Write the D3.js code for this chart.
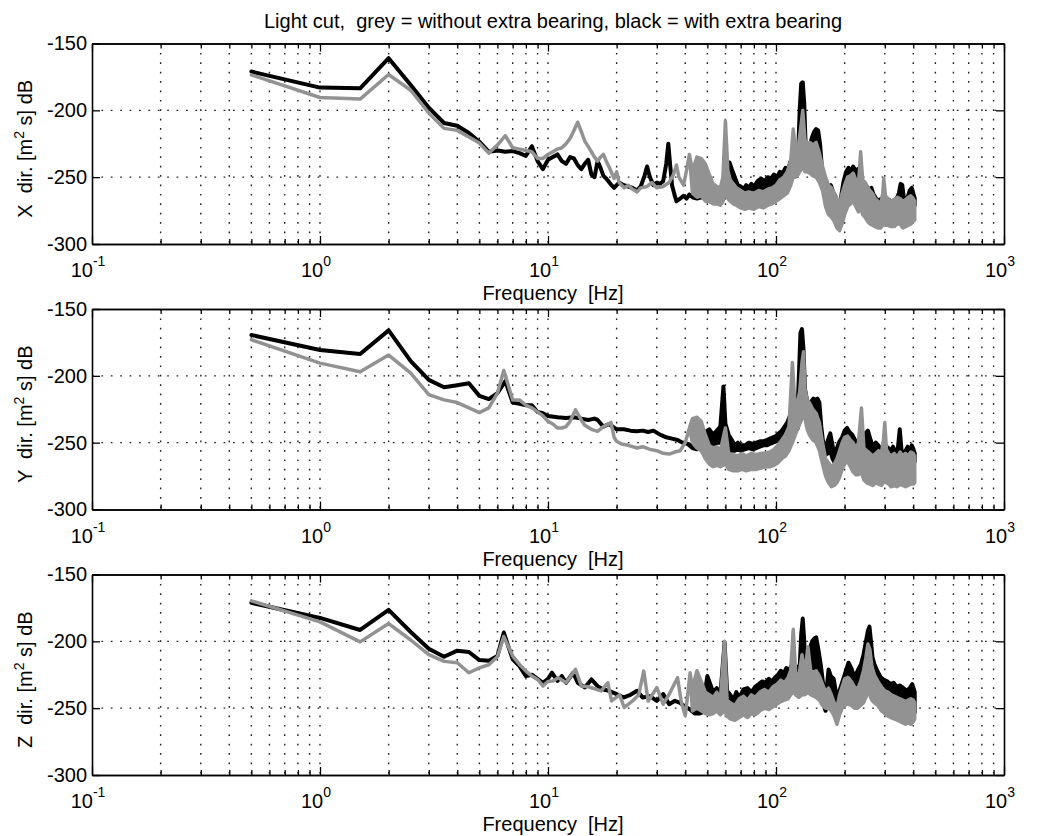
<!DOCTYPE html>
<html>
<head>
<meta charset="utf-8">
<script src="https://cdn.jsdelivr.net/npm/d3@7"></script>
<style>
  body { margin: 0; background: #fff; }
  text { font-family: "Liberation Sans", Arial, Helvetica, sans-serif; fill: #000; }
</style>
</head>
<body>
<div id="plot"></div>
<script>

// ---- data ----
// each point: [frequency Hz, dB] or [frequency Hz, upper dB, lower dB] where the trace is a noisy band
var title = "Light cut,  grey = without extra bearing, black = with extra bearing";
var axisNames = ["X", "Y", "Z"];
var xLabel = "Frequency  [Hz]";
var decadeTicks = [0.1, 1, 10, 100, 1000];
var yTickValues = [-300, -250, -200, -150];
var yGridValues = [-250, -200];

var xBlack = [[0.5,-171],[1,-183],[1.5,-183.5],[2,-161],[2.5,-181],[3,-198],[3.5,-209.5],[4,-211.5],[4.5,-217],[5,-223.5],[5.5,-231],[6,-230],[6.5,-231],[7,-230.5],[7.5,-232],[8,-234],[8.5,-227],[9,-238],[9.5,-244],[10,-237],[10.5,-235],[11,-233],[11.5,-238],[12,-240],[12.5,-235],[13,-236],[13.5,-241],[14,-244],[14.5,-240],[15,-237],[15.5,-248],[16,-250],[16.5,-238],[17,-243],[17.5,-249],[18,-251],[19,-256],[19.5,-258],[20.5,-254],[21.5,-256],[22.5,-257],[23.5,-258],[24.5,-260],[25.5,-257],[26.5,-249],[27.2,-242],[28,-250],[29,-256],[30,-254],[31,-255],[32,-253],[33,-240],[33.7,-225],[34.3,-240],[35,-256],[36,-264],[36.6,-268],[38,-266],[39.3,-264],[40.5,-266],[41.7,-263],[43,-265],
  [45,-262,-266],[47,-257,-265],[49,-258,-266],[51,-259,-268],[53,-261,-269],[55,-258,-268],[57,-262,-270],[59,-256,-266],[61,-246,-262],[62.5,-239,-258],[64,-244,-256],[66,-250,-258],[68,-256,-262],[70,-257,-263],[72,-259,-264],[74,-256,-262],[76,-258,-263],[78,-255,-261],[80,-257,-262],[83,-253,-260],[86,-251,-258],[89,-253,-259],[92,-250,-257],[95,-251,-257],[98,-248,-255],[101,-250,-256],[104,-246,-253],[107,-247,-254],[110,-243,-251],[113,-244,-252],[116,-238,-249],[119,-240,-250],[122,-236,-246],[125,-234,-242],[127,-200,-236],[129,-180,-232],[131,-179,-233],[133,-195,-235],[135,-228,-240],[138,-230,-240],[141,-226,-238],[144,-220,-235],[147,-216,-233],[150,-214,-232],[153,-215,-236],[156,-225,-244],[159,-243,-252],[162,-250,-257],[166,-256,-262],[170,-258,-264],[174,-256,-262],[178,-261,-267],[182,-264,-270],[186,-270,-276],[190,-273,-278],[194,-262,-270],[198,-253,-262],[203,-246,-256],[208,-243,-253],[213,-246,-254],[218,-242,-252],[223,-245,-255],[228,-244,-254],[233,-253,-260],[238,-256,-263],[244,-258,-265],[250,-257,-264],[256,-259,-266],[262,-258,-266],[268,-263,-270],[275,-266,-272],[282,-268,-274],[290,-266,-273],[298,-268,-275],[306,-270,-276],[314,-267,-274],[322,-269,-276],[330,-267,-274],[338,-266,-273],[346,-262,-270],[352,-255,-268],[358,-256,-268],[364,-266,-273],[370,-267,-274],[378,-265,-272],[386,-260,-270],[394,-258,-268],[400,-262,-270],[406,-266,-271]];

var xGrey = [[0.5,-173.5],[1,-190.4],[1.5,-191.6],[2,-173.2],[2.5,-185],[3,-202],[3.5,-213.5],[4,-215],[4.5,-220],[5,-224.5],[5.5,-232],[6,-226],[6.5,-219],[7,-228],[7.5,-229],[8,-230],[8.5,-231],[9,-236],[9.5,-236],[10,-233],[10.5,-231],[11,-229],[11.5,-228],[12,-225],[12.5,-221],[13,-215],[13.5,-209],[14,-216],[14.5,-223],[15,-227],[15.5,-231],[16,-235],[16.5,-238],[17,-235],[17.5,-233],[18,-238],[18.6,-243],[19.5,-251],[20,-246],[20.5,-254],[21.6,-258],[22.5,-256],[23.5,-259],[24.6,-261],[25.5,-258],[27.2,-257],[28.5,-254],[30,-258],[32,-257],[34,-254],[35.5,-248],[36.6,-241],[37.5,-250],[39.3,-256],[40.5,-245],[41.7,-233],
  [43,-245,-262],[45,-235,-265],[47,-236,-264],[49,-240,-268],[51,-248,-268],[53,-255,-270],[55,-257,-270],[57,-258,-271],[58.5,-250,-268],[60,-208,-262],[61.5,-245,-266],[63,-252,-268],[65,-255,-270],[67,-258,-271],[70,-260,-273],[73,-262,-274],[76,-261,-273],[80,-262,-274],[84,-260,-272],[88,-261,-273],[92,-259,-271],[96,-258,-270],[100,-256,-268],[104,-252,-266],[108,-250,-264],[112,-246,-262],[116,-238,-256],[119,-214,-250],[122,-232,-250],[125,-228,-248],[128,-215,-245],[131,-200,-242],[134,-222,-246],[137,-225,-246],[141,-224,-247],[145,-226,-249],[150,-224,-250],[155,-232,-254],[160,-242,-260],[165,-250,-272],[170,-256,-278],[175,-258,-280],[180,-262,-283],[185,-266,-288],[190,-270,-290],[195,-262,-285],[200,-256,-278],[206,-250,-272],[212,-249,-270],[218,-247,-268],[224,-252,-272],[230,-256,-276],[235,-231,-272],[240,-252,-278],[246,-254,-280],[252,-257,-283],[258,-260,-285],[265,-262,-286],[272,-266,-287],[280,-268,-288],[288,-270,-288],[294,-262,-286],[297,-251,-285],[302,-264,-286],[310,-266,-286],[320,-268,-287],[330,-267,-287],[340,-265,-285],[350,-266,-285],[360,-268,-288],[370,-267,-287],[380,-265,-286],[390,-264,-285],[400,-266,-283],[406,-268,-282]];

var yBlack = [[0.5,-169.5],[1,-180.7],[1.5,-183.7],[2,-166],[2.5,-189],[3,-203],[3.5,-208.5],[4,-207],[4.5,-205.5],[5,-215],[5.5,-217.5],[6,-213],[6.5,-204],[7,-220],[7.5,-221],[8,-222],[8.5,-222],[9,-227],[9.5,-228],[10,-230],[11,-231],[12,-231.5],[13,-231],[14,-232],[15,-233],[16,-232],[16.5,-233],[17.5,-238],[18.5,-236],[20,-240],[21.5,-240],[23,-241],[24.5,-241.5],[26,-241],[27.5,-242],[29,-241],[31,-244],[33,-246],[35,-247],[37,-248],[39,-250],[41,-251],
  [43,-252,-254],[45,-250,-255],[47,-248,-254],[49,-242,-254],[51,-240,-252],[53,-244,-253],[55,-241,-250],[57,-238,-250],[58.8,-208,-248],[60,-236,-250],[62,-244,-256],[64,-248,-256],[66,-252,-256],[68,-250,-255],[70,-252,-256],[73,-252,-255],[76,-250,-254],[79,-251,-255],[82,-250,-254],[85,-249,-253],[88,-249,-252],[91,-248,-252],[94,-247,-251],[97,-246,-250],[100,-245,-249],[103,-243,-248],[106,-241,-246],[109,-238,-244],[112,-235,-242],[115,-230,-240],[118,-222,-236],[121,-226,-238],[124,-230,-240],[126,-200,-236],[128,-168,-230],[130,-165,-225],[132,-180,-225],[134,-210,-228],[137,-219,-232],[140,-220,-234],[143,-219,-236],[146,-217,-234],[149,-218,-236],[152,-217,-240],[155,-220,-244],[158,-238,-252],[161,-250,-258],[165,-253,-259],[169,-248,-258],[173,-243,-256],[177,-252,-262],[181,-261,-265],[185,-254,-262],[190,-249,-258],[195,-246,-256],[200,-241,-252],[205,-239,-250],[210,-242,-252],[216,-244,-254],[222,-248,-257],[228,-254,-260],[234,-256,-262],[240,-250,-258],[247,-243,-255],[253,-241,-254],[260,-248,-258],[267,-254,-260],[274,-250,-258],[281,-252,-260],[288,-255,-262],[295,-258,-263],[302,-252,-260],[310,-254,-262],[318,-256,-263],[326,-253,-262],[334,-257,-263],[342,-255,-262],[349,-240,-260],[355,-255,-262],[362,-261,-266],[370,-256,-264],[378,-253,-262],[386,-257,-264],[394,-252,-262],[401,-255,-264],[406,-258,-264]];

var yGrey = [[0.5,-173],[1,-190.5],[1.5,-197],[2,-184.5],[2.5,-198],[3,-214],[3.5,-218],[4,-220],[4.5,-224],[5,-227.5],[5.5,-224],[6,-213],[6.4,-196],[7,-218],[7.5,-218],[8,-222],[8.5,-224],[9,-227],[9.5,-230],[10,-234],[10.5,-236],[11,-239],[11.5,-239],[12,-238],[12.5,-234],[13.2,-225.5],[14,-233],[14.5,-237],[15.5,-240],[16.5,-241.5],[17.5,-238],[18.9,-235],[19.5,-246],[20,-249],[21,-251],[22.5,-252],[24.6,-254],[26,-253],[28,-255],[30,-256],[32,-258],[34,-258.5],[36,-257],[38,-256],[40,-250],[41.7,-239],
  [43,-232,-250],[45,-231,-254],[47,-234,-256],[49,-244,-262],[51,-252,-266],[53,-254,-268],[55,-253,-267],[57,-256,-268],[60,-239,-266],[62,-258,-270],[65,-259,-271],[68,-260,-271],[71,-258,-270],[74,-260,-271],[78,-258,-270],[82,-259,-270],[86,-258,-269],[90,-258,-268],[94,-257,-268],[98,-255,-267],[102,-252,-265],[106,-248,-262],[110,-244,-260],[114,-238,-256],[118,-190,-250],[121,-222,-245],[124,-220,-240],[127,-212,-236],[130,-190,-232],[132,-182,-228],[134,-210,-232],[137,-218,-240],[140,-220,-244],[145,-225,-248],[150,-228,-250],[155,-235,-256],[160,-250,-266],[165,-262,-275],[170,-265,-280],[175,-268,-283],[180,-266,-282],[185,-262,-280],[190,-256,-276],[195,-250,-270],[200,-246,-266],[206,-245,-264],[212,-248,-268],[218,-250,-272],[224,-254,-274],[230,-250,-274],[237,-224,-272],[243,-254,-278],[250,-256,-280],[258,-258,-281],[266,-260,-282],[274,-258,-280],[282,-256,-281],[290,-258,-282],[296,-248,-280],[300,-235,-278],[305,-255,-280],[312,-258,-281],[320,-260,-283],[330,-258,-282],[340,-261,-283],[350,-257,-281],[360,-260,-282],[370,-258,-283],[380,-260,-282],[390,-257,-281],[400,-258,-281],[406,-260,-280]];

var zBlack = [[0.5,-171.2],[1,-182.5],[1.5,-191.5],[2,-176.5],[2.5,-193],[3,-205.5],[3.5,-211.5],[4,-207],[4.5,-208],[5,-214],[5.5,-214.5],[6,-211],[6.4,-193.5],[7,-213.5],[7.5,-218.5],[8,-226],[8.5,-225],[9,-228],[9.5,-231],[10,-228],[10.4,-223.5],[11,-229.5],[11.5,-226],[12,-231],[12.9,-223.5],[13.5,-231],[14.5,-234.5],[15.5,-228.5],[16.5,-233.5],[17.5,-236],[18.5,-237],[20,-239.5],[21.5,-242],[23,-240],[24.6,-237],[26,-242],[28,-241],[30,-244.5],[32,-239.5],[34,-247],[36,-244.5],[38,-246],[40,-249],[42,-251],
  [44,-252,-254],[46,-249,-254],[48,-246,-253],[50,-226,-248],[51.5,-232,-246],[53,-238,-246],[55,-235,-245],[57,-240,-246],[59.5,-201,-242],[61,-237,-246],[63,-240,-248],[65,-244,-250],[67,-238,-246],[69,-242,-248],[72,-236,-244],[75,-235,-243],[78,-238,-244],[81,-234,-242],[84,-232,-240],[87,-230,-238],[90,-231,-238],[93,-228,-236],[96,-230,-237],[99,-227,-234],[102,-225,-233],[105,-222,-230],[108,-224,-232],[111,-220,-228],[114,-222,-230],[117,-218,-228],[120,-221,-230],[124,-219,-232],[127,-220,-234],[129,-195,-232],[131,-183,-228],[133,-200,-230],[135,-226,-236],[138,-218,-232],[141,-205,-228],[144,-200,-225],[147,-198,-226],[150,-197,-228],[153,-205,-232],[157,-217,-238],[161,-232,-246],[165,-244,-252],[168,-230,-244],[170,-221,-236],[174,-226,-240],[179,-228,-244],[184,-240,-254],[189,-238,-252],[194,-232,-248],[200,-225,-244],[208,-216,-240],[214,-220,-242],[221,-227,-245],[228,-222,-242],[236,-217,-238],[242,-210,-236],[248,-200,-232],[253,-192,-228],[257,-189,-226],[261,-200,-230],[265,-212,-236],[270,-217,-238],[278,-222,-242],[288,-227,-245],[298,-229,-246],[308,-230,-247],[318,-232,-248],[328,-231,-247],[338,-234,-249],[350,-233,-249],[362,-235,-250],[374,-237,-252],[386,-235,-251],[396,-232,-252],[406,-238,-253]];

var zGrey = [[0.5,-169.7],[1,-185.4],[1.5,-200.4],[2,-186.7],[2.5,-199],[3,-210],[3.5,-215],[4,-216],[4.5,-223.5],[5,-219.8],[5.5,-217.5],[6,-211.5],[6.4,-196.5],[7,-211],[7.5,-217.3],[8,-222.3],[8.5,-226],[9,-228.5],[9.5,-233.4],[10,-230],[10.5,-229.7],[11.1,-227.2],[12,-231],[13.2,-221],[14,-233.4],[15,-234],[15.5,-234.7],[17.1,-237.1],[18.3,-231],[19,-244.6],[20.6,-240],[21.6,-249.5],[23.5,-244.6],[25,-240],[26.3,-222.3],[27.5,-244.6],[30,-234.7],[32,-247],[34,-239.6],[37,-227.2],[38.5,-246],[40,-255.7],[41,-240],[42,-223.5],
  [43,-235,-252],[45,-222,-250],[47,-230,-252],[49,-238,-254],[51,-240,-255],[53,-242,-254],[55,-238,-252],[57,-244,-255],[59.5,-200,-252],[61,-244,-256],[63,-246,-258],[66,-248,-259],[69,-243,-257],[72,-241,-255],[75,-244,-257],[78,-240,-254],[81,-242,-255],[85,-238,-252],[89,-236,-250],[93,-238,-251],[97,-234,-249],[101,-232,-247],[105,-229,-245],[109,-231,-244],[113,-227,-243],[116,-222,-240],[119,-191,-238],[122,-224,-240],[126,-226,-242],[130,-210,-240],[134,-224,-240],[138,-204,-238],[142,-222,-240],[146,-223,-241],[150,-222,-242],[155,-226,-244],[160,-232,-248],[165,-238,-250],[170,-235,-250],[175,-240,-252],[180,-246,-256],[185,-250,-262],[190,-240,-255],[195,-234,-250],[200,-228,-248],[207,-227,-247],[214,-230,-248],[221,-234,-250],[228,-236,-250],[235,-230,-248],[242,-222,-246],[248,-212,-242],[253,-202,-238],[258,-206,-240],[263,-218,-244],[270,-225,-246],[280,-230,-248],[290,-234,-252],[300,-237,-254],[310,-238,-256],[320,-240,-257],[330,-241,-258],[340,-242,-259],[350,-243,-260],[360,-244,-261],[370,-245,-262],[380,-244,-261],[390,-243,-262],[400,-244,-260],[406,-246,-258]];

var panels = [
  { name: axisNames[0], black: xBlack, grey: xGrey },
  { name: axisNames[1], black: yBlack, grey: yGrey },
  { name: axisNames[2], black: zBlack, grey: zGrey }
];

// ---- layout ----
var w = 1038, h = 836;
var left = 92, right = 1004;
var panelTop = [43.5, 309, 574.5];
var ph = 200.5;
var fs = "20px";

var svg = d3.select("#plot").append("svg")
  .attr("width", w)
  .attr("height", h);

var xScale = d3.scaleLog().domain([0.1, 1000]).range([left, right]);
var yScale = d3.scaleLinear().domain([-300, -150]).range([ph, 0]);

// all 1..9 ticks of each decade
var allTicks = [];
decadeTicks.slice(0, -1).forEach(function(d) {
  for (var k = 1; k < 10; k++) allTicks.push(k * d);
});
allTicks.push(1000);
var minorTicks = allTicks.filter(function(t) { return decadeTicks.indexOf(t) < 0; });
var gridTicks = allTicks.filter(function(t) { return t > 0.1 && t < 1000; });

var area = d3.area()
  .x(function(d) { return xScale(d[0]); })
  .y0(function(d) { return yScale(d.length > 2 ? d[2] : d[1]); })
  .y1(function(d) { return yScale(d[1]); });

svg.append("text")
  .attr("x", (left + right) / 2 + 5)
  .attr("y", 28)
  .attr("text-anchor", "middle")
  .attr("font-size", fs)
  .style("white-space", "pre")
  .text(title);

panels.forEach(function(p, i) {
  var g = svg.append("g").attr("transform", "translate(0," + panelTop[i] + ")");

  // dotted grid
  g.selectAll(".vgrid").data(gridTicks).enter().append("line")
    .attr("x1", function(d) { return xScale(d); })
    .attr("x2", function(d) { return xScale(d); })
    .attr("y1", 0).attr("y2", ph)
    .attr("stroke", "#222").attr("stroke-width", 1.4)
    .attr("stroke-dasharray", "1.7,7.7");
  g.selectAll(".hgrid").data(yGridValues).enter().append("line")
    .attr("x1", left).attr("x2", right)
    .attr("y1", function(d) { return yScale(d); })
    .attr("y2", function(d) { return yScale(d); })
    .attr("stroke", "#222").attr("stroke-width", 1.4)
    .attr("stroke-dasharray", "1.7,7.7");

  // traces: black (with extra bearing) under grey (without)
  g.append("path").datum(p.black)
    .attr("d", area)
    .attr("fill", "#000").attr("stroke", "#000")
    .attr("stroke-width", 4).attr("stroke-linejoin", "round");
  g.append("path").datum(p.grey)
    .attr("d", area)
    .attr("fill", "#929292").attr("stroke", "#929292")
    .attr("stroke-width", 3.5).attr("stroke-linejoin", "round");

  // axes with inward ticks
  var bottomMinor = d3.axisBottom(xScale).tickValues(minorTicks).tickSize(-5).tickSizeOuter(0).tickFormat("");
  var bottomMajor = d3.axisBottom(xScale).tickValues(decadeTicks).tickSize(-8).tickSizeOuter(0).tickFormat("");
  var topMinor = d3.axisTop(xScale).tickValues(minorTicks).tickSize(-5).tickSizeOuter(0).tickFormat("");
  var topMajor = d3.axisTop(xScale).tickValues(decadeTicks).tickSize(-8).tickSizeOuter(0).tickFormat("");
  var leftAxis = d3.axisLeft(yScale).tickValues(yTickValues).tickSize(-8).tickSizeOuter(0).tickPadding(5)
    .tickFormat(function(d) { return String(d); });
  var rightAxis = d3.axisRight(yScale).tickValues(yTickValues).tickSize(-8).tickSizeOuter(0).tickFormat("");

  g.append("g").attr("transform", "translate(0," + ph + ")").call(bottomMinor);
  g.append("g").attr("transform", "translate(0," + ph + ")").call(bottomMajor);
  g.append("g").call(topMinor);
  g.append("g").call(topMajor);
  g.append("g").attr("class", "yl").attr("transform", "translate(" + left + ",0)").call(leftAxis);
  g.append("g").attr("transform", "translate(" + right + ",0)").call(rightAxis);

  g.selectAll(".domain").attr("stroke", "#000").attr("stroke-width", 1.6);
  g.selectAll(".tick line").attr("stroke", "#000").attr("stroke-width", 1.3);
  g.selectAll(".yl text")
    .attr("font-size", fs)
    .attr("font-family", "'Liberation Sans', Arial, sans-serif")
    .attr("fill", "#000");

  // decade labels 10^n
  var lab = g.selectAll(".xl").data(decadeTicks).enter().append("text")
    .attr("x", function(d) { return xScale(d) - 4; })
    .attr("y", ph + 33)
    .attr("text-anchor", "middle")
    .attr("font-size", fs);
  lab.append("tspan").text("10");
  lab.append("tspan")
    .attr("dy", -11)
    .attr("font-size", "14px")
    .text(function(d) { return Math.round(Math.log10(d)); });

  g.append("text")
    .attr("x", (left + right) / 2 + 5)
    .attr("y", ph + 56)
    .attr("text-anchor", "middle")
    .attr("font-size", fs)
    .style("white-space", "pre")
    .text(xLabel);

  var yl = g.append("text")
    .attr("transform", "translate(32," + (ph / 2 + 5) + ") rotate(-90)")
    .attr("text-anchor", "middle")
    .attr("font-size", fs)
    .style("white-space", "pre");
  yl.append("tspan").text(p.name + "  dir. [m");
  yl.append("tspan").attr("dy", -8).attr("font-size", "14px").text("2");
  yl.append("tspan").attr("dy", 8).text(" s] dB");
});

</script>
</body>
</html>
